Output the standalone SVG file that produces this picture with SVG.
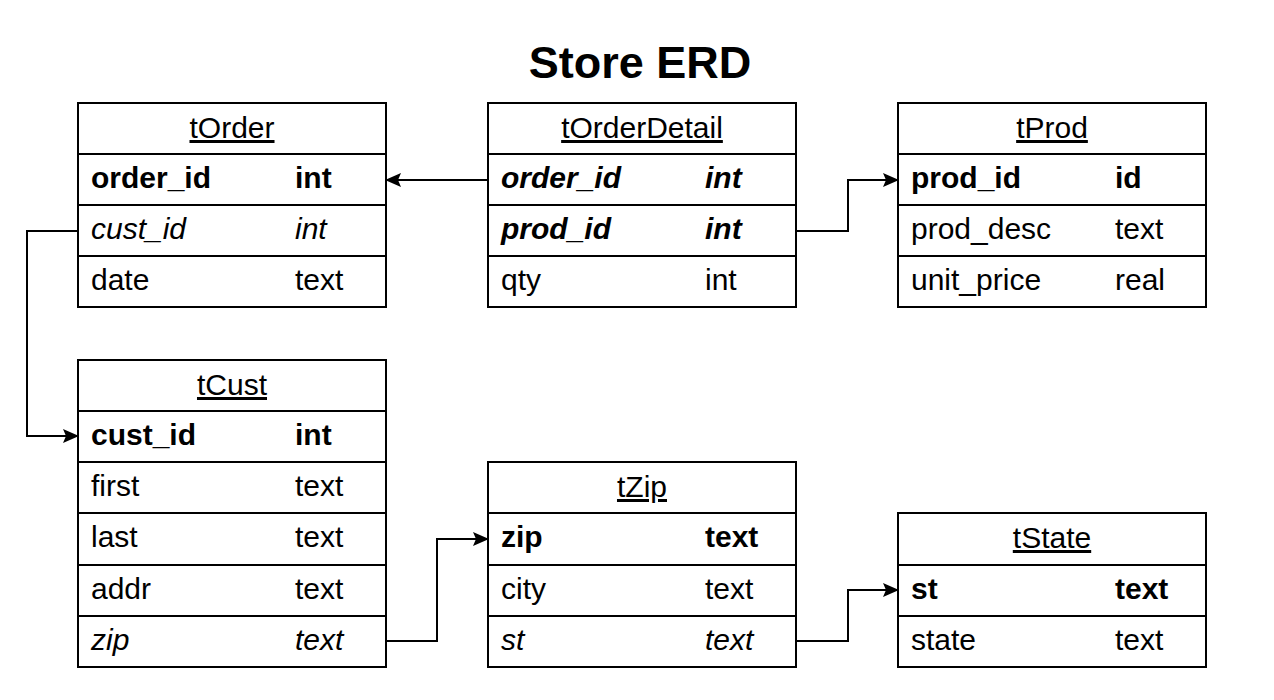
<svg xmlns="http://www.w3.org/2000/svg" width="1274" height="700" viewBox="0 0 1274 700">
<style>
text{font-family:"Liberation Sans",Arial,sans-serif;font-size:30px;fill:#000}
.t{font-size:45px;font-weight:bold}
.h{text-decoration:underline}
.b{font-weight:bold}
.i{font-style:italic}
.box{fill:#fff;stroke:#000;stroke-width:2}
.ln{stroke:#000;stroke-width:2}
.c{fill:none;stroke:#000;stroke-width:2}
</style>
<defs>
<marker id="ar" viewBox="0 0 16 16" refX="15" refY="8" markerWidth="16" markerHeight="16" markerUnits="userSpaceOnUse" orient="auto">
<path d="M0,1 L16,8 L0,15 L3,8 Z" fill="#000"/>
</marker>
</defs>
<rect width="1274" height="700" fill="#fff"/>
<text class="t" x="640" y="78" text-anchor="middle">Store ERD</text>

<g id="tOrder">
<rect class="box" x="78" y="103" width="308" height="204"/>
<line class="ln" x1="78" y1="154" x2="386" y2="154"/>
<line class="ln" x1="78" y1="205" x2="386" y2="205"/>
<line class="ln" x1="78" y1="256" x2="386" y2="256"/>
<text class="h" x="232" y="138" text-anchor="middle">tOrder</text>
<text class="b" x="91" y="188">order_id</text><text class="b" x="295" y="188">int</text>
<text class="i" x="91" y="239">cust_id</text><text class="i" x="295" y="239">int</text>
<text x="91" y="290">date</text><text x="295" y="290">text</text>
</g>

<g id="tOrderDetail">
<rect class="box" x="488" y="103" width="308" height="204"/>
<line class="ln" x1="488" y1="154" x2="796" y2="154"/>
<line class="ln" x1="488" y1="205" x2="796" y2="205"/>
<line class="ln" x1="488" y1="256" x2="796" y2="256"/>
<text class="h" x="642" y="138" text-anchor="middle">tOrderDetail</text>
<text class="b i" x="501" y="188">order_id</text><text class="b i" x="705" y="188">int</text>
<text class="b i" x="501" y="239">prod_id</text><text class="b i" x="705" y="239">int</text>
<text x="501" y="290">qty</text><text x="705" y="290">int</text>
</g>

<g id="tProd">
<rect class="box" x="898" y="103" width="308" height="204"/>
<line class="ln" x1="898" y1="154" x2="1206" y2="154"/>
<line class="ln" x1="898" y1="205" x2="1206" y2="205"/>
<line class="ln" x1="898" y1="256" x2="1206" y2="256"/>
<text class="h" x="1052" y="138" text-anchor="middle">tProd</text>
<text class="b" x="911" y="188">prod_id</text><text class="b" x="1115" y="188">id</text>
<text x="911" y="239">prod_desc</text><text x="1115" y="239">text</text>
<text x="911" y="290">unit_price</text><text x="1115" y="290">real</text>
</g>

<g id="tCust">
<rect class="box" x="78" y="360" width="308" height="307"/>
<line class="ln" x1="78" y1="411" x2="386" y2="411"/>
<line class="ln" x1="78" y1="462" x2="386" y2="462"/>
<line class="ln" x1="78" y1="513" x2="386" y2="513"/>
<line class="ln" x1="78" y1="565" x2="386" y2="565"/>
<line class="ln" x1="78" y1="616" x2="386" y2="616"/>
<text class="h" x="232" y="395" text-anchor="middle">tCust</text>
<text class="b" x="91" y="445">cust_id</text><text class="b" x="295" y="445">int</text>
<text x="91" y="496">first</text><text x="295" y="496">text</text>
<text x="91" y="547">last</text><text x="295" y="547">text</text>
<text x="91" y="599">addr</text><text x="295" y="599">text</text>
<text class="i" x="91" y="650">zip</text><text class="i" x="295" y="650">text</text>
</g>

<g id="tZip">
<rect class="box" x="488" y="462" width="308" height="205"/>
<line class="ln" x1="488" y1="513" x2="796" y2="513"/>
<line class="ln" x1="488" y1="565" x2="796" y2="565"/>
<line class="ln" x1="488" y1="616" x2="796" y2="616"/>
<text class="h" x="642" y="497" text-anchor="middle">tZip</text>
<text class="b" x="501" y="547">zip</text><text class="b" x="705" y="547">text</text>
<text x="501" y="599">city</text><text x="705" y="599">text</text>
<text class="i" x="501" y="650">st</text><text class="i" x="705" y="650">text</text>
</g>

<g id="tState">
<rect class="box" x="898" y="513" width="308" height="154"/>
<line class="ln" x1="898" y1="565" x2="1206" y2="565"/>
<line class="ln" x1="898" y1="616" x2="1206" y2="616"/>
<text class="h" x="1052" y="548" text-anchor="middle">tState</text>
<text class="b" x="911" y="599">st</text><text class="b" x="1115" y="599">text</text>
<text x="911" y="650">state</text><text x="1115" y="650">text</text>
</g>

<g id="connectors">
<path class="c" d="M488,180 L386,180" marker-end="url(#ar)"/>
<path class="c" d="M796,231 L848,231 L848,180 L898,180" marker-end="url(#ar)"/>
<path class="c" d="M78,231 L27,231 L27,436 L78,436" marker-end="url(#ar)"/>
<path class="c" d="M386,641 L437,641 L437,539 L488,539" marker-end="url(#ar)"/>
<path class="c" d="M796,641 L848,641 L848,590 L898,590" marker-end="url(#ar)"/>
</g>
</svg>
